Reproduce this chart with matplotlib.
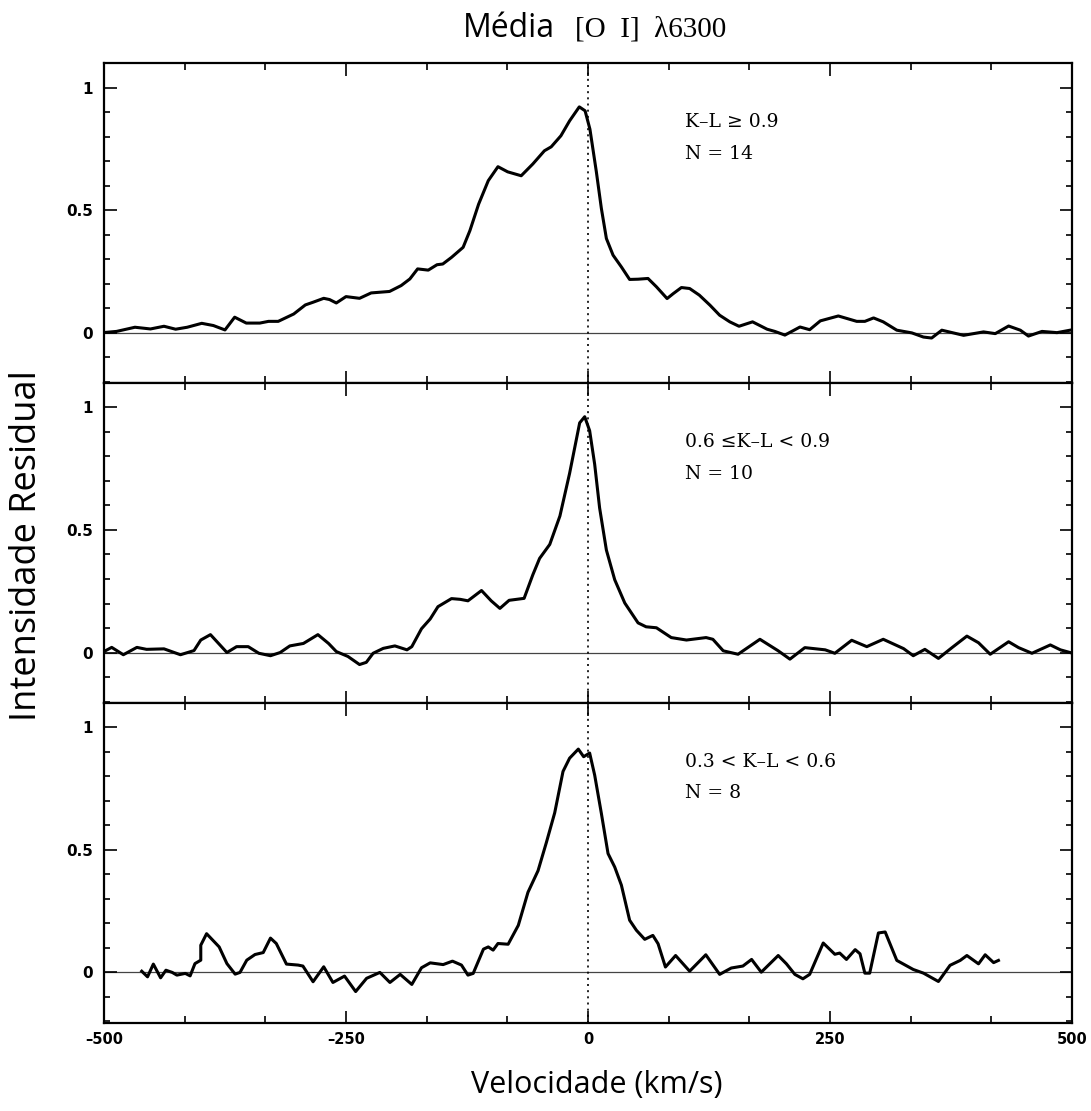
#!/usr/bin/env python3
"""Mean [O I] 6300 residual profiles in three K-L bins."""

import matplotlib

matplotlib.use("Agg")
import matplotlib.pyplot as plt
from matplotlib.ticker import MultipleLocator, FixedLocator

# velocity (km/s) and residual intensity
v_top = [-501, -487, -468, -452, -438, -426, -414, -399, -387, -375, -365, -353,
         -339, -330, -320, -304, -292, -284, -273, -267, -260, -250, -236, -224,
         -205, -193, -184, -176, -165, -156, -150, -141, -129, -122, -113, -103,
         -93, -83, -69, -57, -45, -38, -28, -19, -9, -3, 2, 8.6, 13.8, 19, 25.9,
         34.5, 43, 51.7, 62, 70.7, 81.7, 88, 96.5, 105, 115, 126, 136, 146.5,
         156, 170, 185, 193, 203.4, 219, 229, 240, 258.6, 277.6, 286, 295, 305,
         319, 334.5, 346.5, 355, 365.5, 388, 408.6, 420.7, 434.5, 446.6, 455,
         469, 484.5, 498]
i_top = [0.0, 0.005, 0.022, 0.015, 0.026, 0.014, 0.022, 0.038, 0.029, 0.011,
         0.063, 0.039, 0.039, 0.046, 0.046, 0.076, 0.113, 0.124, 0.14, 0.135,
         0.121, 0.147, 0.14, 0.162, 0.168, 0.192, 0.219, 0.26, 0.255, 0.277,
         0.28, 0.307, 0.348, 0.416, 0.524, 0.62, 0.677, 0.656, 0.64, 0.688,
         0.742, 0.758, 0.803, 0.864, 0.921, 0.905, 0.83, 0.657, 0.507, 0.384,
         0.316, 0.268, 0.217, 0.218, 0.221, 0.187, 0.139, 0.159, 0.184, 0.18,
         0.153, 0.112, 0.071, 0.044, 0.026, 0.044, 0.014, 0.005, -0.01, 0.023,
         0.012, 0.048, 0.068, 0.046, 0.046, 0.06, 0.044, 0.01, -0.001, -0.018,
         -0.022, 0.01, -0.011, 0.003, -0.004, 0.027, 0.01, -0.014, 0.005, 0.0,
         0.01]

v_mid = [-502, -492, -480, -466, -456, -438, -421, -407, -400, -390, -373, -363,
         -351, -340, -328, -318, -308, -294, -279, -268, -260, -248, -236, -229,
         -222, -211.5, -199.5, -187, -182, -172, -163, -155, -141, -132, -124,
         -110, -100, -91, -81.5, -66, -57, -50, -39.5, -29, -19, -8.6, -3.4, 1.7,
         6.9, 12, 19, 27.6, 38, 51.7, 60, 70.7, 86, 101.7, 122, 129, 139.7, 155,
         177.6, 196.5, 208.6, 224, 245, 255, 272.4, 288, 305, 326, 336, 348, 362,
         376, 391.4, 403.4, 415.5, 434.5, 444.8, 458.6, 477.6, 488, 498]
i_mid = [0.0, 0.021, -0.009, 0.021, 0.013, 0.015, -0.009, 0.008, 0.051, 0.073,
         0.0, 0.024, 0.024, -0.003, -0.013, 0.0, 0.027, 0.037, 0.073, 0.037,
         0.004, -0.016, -0.049, -0.04, -0.003, 0.017, 0.027, 0.011, 0.024,
         0.097, 0.137, 0.187, 0.22, 0.217, 0.211, 0.253, 0.211, 0.18, 0.213,
         0.221, 0.317, 0.384, 0.441, 0.557, 0.731, 0.937, 0.962, 0.905, 0.768,
         0.59, 0.418, 0.297, 0.202, 0.121, 0.105, 0.101, 0.061, 0.051, 0.061,
         0.054, 0.007, -0.007, 0.054, 0.007, -0.027, 0.02, 0.011, -0.003, 0.05,
         0.024, 0.054, 0.016, -0.013, 0.013, -0.024, 0.02, 0.067, 0.04, -0.007,
         0.044, 0.02, -0.003, 0.031, 0.011, 0.0]

v_bot = [-461, -455, -449, -441.5, -436, -429.5, -424.7, -416, -411, -406, -400,
         -400, -394, -381, -373, -364.5, -359.5, -352.5, -344, -335.5, -328,
         -322, -311.5, -299.5, -294.5, -284, -273, -263.5, -251.5, -240, -228.7,
         -215, -204.6, -194, -182, -172, -163, -149.6, -140, -130.7, -124,
         -118.6, -108, -103, -98, -93, -82.5, -72, -62, -51.6, -43, -34.4, -25.8,
         -19, -10, -4.5, 1.7, 6.9, 13.8, 20.7, 27.6, 34.5, 43, 50, 58.6, 67,
         72.4, 80, 90.5, 105, 121.7, 136, 148, 160, 169, 179, 196.5, 205, 213.7,
         222, 229, 243, 255, 260, 267, 276, 281, 286, 291, 300, 307, 319, 336,
         346.6, 362, 374, 384.5, 391.4, 403.4, 410.3, 419, 424]
i_bot = [0.005, -0.018, 0.034, -0.022, 0.009, 0.0, -0.011, -0.004, -0.014,
         0.036, 0.05, 0.111, 0.158, 0.104, 0.036, -0.007, 0.0, 0.05, 0.073,
         0.081, 0.14, 0.118, 0.034, 0.03, 0.026, -0.038, 0.023, -0.041, -0.015,
         -0.078, -0.024, 0.0, -0.041, -0.008, -0.049, 0.019, 0.039, 0.032, 0.046,
         0.03, -0.011, -0.004, 0.095, 0.104, 0.091, 0.118, 0.115, 0.192, 0.327,
         0.415, 0.53, 0.651, 0.82, 0.874, 0.911, 0.88, 0.895, 0.805, 0.649,
         0.485, 0.43, 0.356, 0.213, 0.172, 0.135, 0.151, 0.117, 0.022, 0.069,
         0.005, 0.072, -0.008, 0.018, 0.026, 0.053, 0.001, 0.069, 0.035, -0.008,
         -0.026, -0.008, 0.12, 0.074, 0.079, 0.053, 0.093, 0.076, -0.003, -0.003,
         0.161, 0.165, 0.049, 0.012, -0.003, -0.037, 0.029, 0.049, 0.069, 0.035,
         0.072, 0.04, 0.049]

bin_labels = ["K\u2013L \u2265 0.9", "0.6 \u2264K\u2013L < 0.9", "0.3 < K\u2013L < 0.6"]
n_labels = ["N = 14", "N = 10", "N = 8"]
x_ticks = [-500, -250, 0, 250, 500]
x_ticklabels = ["\u2013500", "\u2013250", "0", "250", "500"]
y_ticks = [0, 0.5, 1]
y_ticklabels = ["0", "0.5", "1"]

series = [(v_top, i_top), (v_mid, i_mid), (v_bot, i_bot)]

fig = plt.figure(figsize=(10.91, 11.11), dpi=100)
gs = fig.add_gridspec(3, 1, left=0.0953, right=0.9826, top=0.9433, bottom=0.0795, hspace=0)
axes = [fig.add_subplot(gs[k]) for k in range(3)]

for k, ax in enumerate(axes):
    v, inten = series[k]
    ax.plot(v, inten, color="black", lw=2.2, solid_joinstyle="round")
    ax.axhline(0, color="#444444", lw=0.9, zorder=0)
    ax.axvline(0, color="black", lw=1.2, ls=(0, (1.2, 2.5)))
    ax.set_xlim(-500, 500)
    ax.set_ylim(-0.205, 1.1)

    ax.xaxis.set_major_locator(FixedLocator(x_ticks))
    ax.xaxis.set_minor_locator(MultipleLocator(250 / 3))
    ax.yaxis.set_major_locator(FixedLocator(y_ticks))
    ax.yaxis.set_minor_locator(MultipleLocator(0.1))
    ax.tick_params(which="both", direction="in", top=True, right=True, width=1.2)
    ax.tick_params(axis="x", which="major", length=9)
    ax.tick_params(axis="x", which="minor", length=5)
    ax.tick_params(axis="y", which="major", length=9)
    ax.tick_params(axis="y", which="minor", length=4)
    ax.tick_params(axis="y", pad=8)
    ax.set_yticklabels(y_ticklabels, fontsize=11, fontweight="bold", family="DejaVu Sans")
    for s in ax.spines.values():
        s.set_linewidth(1.6)

    ax.text(100, 0.86, bin_labels[k], fontsize=13.5, family="DejaVu Serif", va="center")
    ax.text(100, 0.73, n_labels[k], fontsize=13.5, family="DejaVu Serif", va="center")

    if k < 2:
        ax.tick_params(axis="x", labelbottom=False)
    else:
        ax.set_xticklabels(x_ticklabels, fontsize=10.5, fontweight="bold", family="DejaVu Sans")
        ax.tick_params(axis="x", pad=7)

fig.text(0.4244, 0.9667, "M\u00e9dia", ha="left", va="baseline",
         fontsize=23, family="Open Sans")
fig.text(0.527, 0.9667, "[O  I]  \u03bb6300", ha="left", va="baseline",
         fontsize=21, family="Liberation Serif")
fig.text(0.025, 0.509, "Intensidade Residual", rotation=90, ha="center", va="center",
         fontsize=26, family="Open Sans")
fig.text(0.547, 0.0234, "Velocidade (km/s)", ha="center", va="center",
         fontsize=22, family="Open Sans")

fig.savefig("out.png", dpi=100, facecolor="white")
